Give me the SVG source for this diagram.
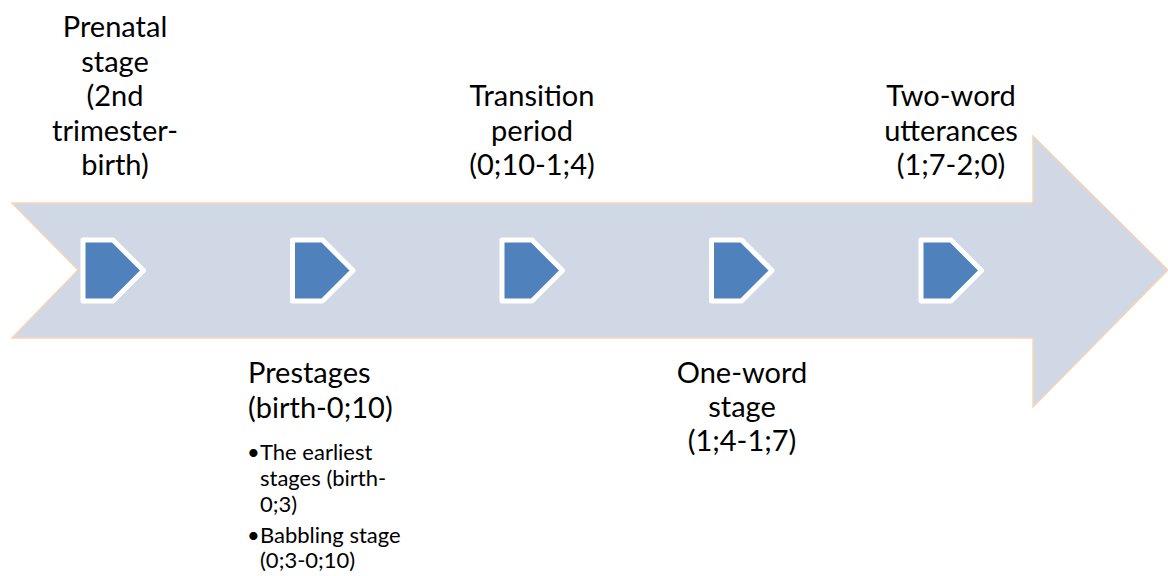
<svg xmlns="http://www.w3.org/2000/svg" width="1168" height="576" viewBox="0 0 1168 576">
<style>
.big{fill:#D0D8E6;stroke:#FAD3B3;stroke-width:1.5}
.pent{fill:#4F81BD;stroke:#FFFFFF;stroke-width:5;stroke-linejoin:round}
.t{font-family:Lato,"Open Sans",sans-serif;font-size:29px;fill:#000}
.c{text-anchor:middle}
.s{font-family:Lato,"Open Sans",sans-serif;font-size:22px;fill:#000}
</style>
<rect width="1168" height="576" fill="#FFFFFF"/>
<g id="timeline-arrow">
<polygon class="big" points="12,203 1033,203 1033,136 1168,270 1033,407 1033,338 12,338 78,270"/>
</g>
<g id="stage1">
<polygon class="pent" points="83,240 113,240 143.5,270.5 113,301 83,301"/>
<text class="t c" x="115"><tspan x="115" y="37">Prenatal</tspan><tspan x="115" y="72">stage</tspan><tspan x="115" y="106">(2nd</tspan><tspan x="115" y="141">trimester-</tspan><tspan x="115" y="175">birth)</tspan></text>
</g>
<g id="stage2">
<polygon class="pent" points="292.5,240 322.5,240 353,270.5 322.5,301 292.5,301"/>
<text class="t" x="248"><tspan x="248" y="383">Prestages</tspan><tspan x="248" y="418">(birth-0;10)</tspan></text>
<text class="s"><tspan x="247" y="460">•</tspan><tspan x="260" y="460">The earliest</tspan><tspan x="260" y="486">stages (birth-</tspan><tspan x="260" y="512">0;3)</tspan><tspan x="247" y="543">•</tspan><tspan x="260" y="543">Babbling stage</tspan><tspan x="260" y="568">(0;3-0;10)</tspan></text>
</g>
<g id="stage3">
<polygon class="pent" points="502,240 532,240 562.5,270.5 532,301 502,301"/>
<text class="t c"><tspan x="532" y="106">Transition</tspan><tspan x="532" y="141">period</tspan><tspan x="532" y="175">(0;10-1;4)</tspan></text>
</g>
<g id="stage4">
<polygon class="pent" points="711.5,240 741.5,240 772,270.5 741.5,301 711.5,301"/>
<text class="t c"><tspan x="742" y="383">One-word</tspan><tspan x="742" y="417">stage</tspan><tspan x="742" y="451">(1;4-1;7)</tspan></text>
</g>
<g id="stage5">
<polygon class="pent" points="921,240 951,240 981.5,270.5 951,301 921,301"/>
<text class="t c"><tspan x="951" y="106">Two-word</tspan><tspan x="951" y="141">utterances</tspan><tspan x="951" y="175">(1;7-2;0)</tspan></text>
</g>
<g id="connectors"></g>
</svg>
